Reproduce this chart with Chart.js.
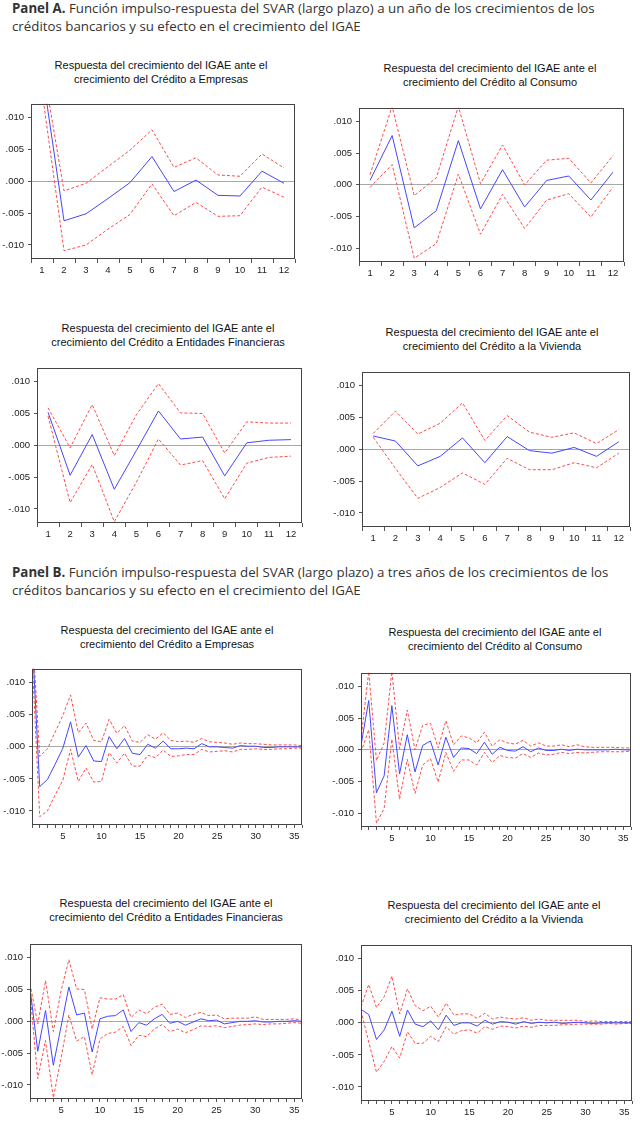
<!DOCTYPE html>
<html lang="es">
<head>
<meta charset="UTF-8">
<script src="https://cdn.jsdelivr.net/npm/chart.js@4.4.0/dist/chart.umd.min.js"></script>
<title>Impulso-respuesta SVAR</title>
<style>
  body { margin: 0; background: #fff; width: 640px; height: 1125px; position: relative; overflow: hidden; }
  .hdr { position: absolute; left: 12px; font-family: "Open Sans", sans-serif; font-size: 13.3px; line-height: 18px; color: #333; white-space: nowrap; }
  .ttl { position: absolute; width: 320px; text-align: center; font-family: "Liberation Sans", Arial, sans-serif; font-size: 11px; line-height: 14px; color: #111; }
  .box { position: absolute; }
</style>
</head>
<body>
<div class="hdr" style="top:-1px"><b>Panel A.</b> Función impulso-respuesta del SVAR (largo plazo) a un año de los crecimientos de los<br>créditos bancarios y su efecto en el crecimiento del IGAE</div>
<div class="hdr" style="top:563px"><b>Panel B.</b> Función impulso-respuesta del SVAR (largo plazo) a tres años de los crecimientos de los<br>créditos bancarios y su efecto en el crecimiento del IGAE</div>
<script>
// periods
const periodsA = ['1', '2', '3', '4', '5', '6', '7', '8', '9', '10', '11', '12'];
const periodsB = [1, 2, 3, 4, 5, 6, 7, 8, 9, 10, 11, 12, 13, 14, 15, 16, 17, 18,
  19, 20, 21, 22, 23, 24, 25, 26, 27, 28, 29, 30, 31, 32, 33, 34, 35, 36];
const yTicks = [-0.01, -0.005, 0, 0.005, 0.01];

// Crédito a Empresas (periods 1-12, then 13-36)
const empresasResp = [0.0175, -0.0062, -0.0051, -0.0027, -0.0002, 0.0039, -0.0016, 0.0002, -0.0022, -0.0023, 0.0016, -0.0003];
const empresasUpper = [0.0190, -0.0015, -0.0003, 0.0023, 0.0049, 0.0081, 0.0022, 0.0037, 0.0010, 0.0008, 0.0043, 0.0021];
const empresasLower = [0.0142, -0.0109, -0.0100, -0.0075, -0.0052, -0.0004, -0.0054, -0.0033, -0.0055, -0.0054, -0.0009, -0.0025];
const empresasRespTail = [0.0013, -0.0010, -0.0012, 0.0004, -0.0002, 0.0009, -0.0003, -0.0003, -0.0002, -0.0003, 0.0005, 0.0000,
  0.0000, -0.0001, -0.0002, 0.0002, 0.0001, 0.0001, -0.0001, -0.0001, 0.0000, 0.0000, 0.0000, 0.0000];
const empresasUpperTail = [0.0033, 0.0009, 0.0007, 0.0019, 0.0012, 0.0022, 0.0010, 0.0008, 0.0009, 0.0007, 0.0013, 0.0008,
  0.0007, 0.0006, 0.0004, 0.0006, 0.0005, 0.0005, 0.0004, 0.0003, 0.0003, 0.0003, 0.0003, 0.0002];
const empresasLowerTail = [-0.0010, -0.0030, -0.0030, -0.0013, -0.0017, -0.0005, -0.0015, -0.0014, -0.0012, -0.0012, -0.0004, -0.0008,
  -0.0007, -0.0006, -0.0008, -0.0004, -0.0004, -0.0003, -0.0004, -0.0004, -0.0003, -0.0003, -0.0002, -0.0002];

// Crédito al Consumo
const consumoResp = [0.0007, 0.0078, -0.0068, -0.0041, 0.0070, -0.0038, 0.0024, -0.0035, 0.0007, 0.0014, -0.0024, 0.0020];
const consumoUpper = [0.0016, 0.0124, -0.0017, 0.0011, 0.0124, 0.0002, 0.0063, 0.0000, 0.0039, 0.0042, 0.0003, 0.0046];
const consumoLower = [-0.0004, 0.0032, -0.0116, -0.0093, 0.0017, -0.0078, -0.0015, -0.0069, -0.0024, -0.0014, -0.0051, -0.0004];
const consumoRespTail = [-0.0012, 0.0003, 0.0002, -0.0006, 0.0012, -0.0007, 0.0004, -0.0001, -0.0002, 0.0005, -0.0003, 0.0003,
  -0.0001, -0.0001, 0.0001, -0.0001, 0.0001, 0.0000, 0.0000, 0.0000, 0.0000, 0.0001, 0.0000, 0.0000];
const consumoUpperTail = [0.0008, 0.0022, 0.0019, 0.0011, 0.0028, 0.0006, 0.0016, 0.0011, 0.0009, 0.0015, 0.0006, 0.0011,
  0.0006, 0.0006, 0.0008, 0.0005, 0.0008, 0.0005, 0.0004, 0.0004, 0.0004, 0.0004, 0.0003, 0.0003];
const consumoLowerTail = [-0.0034, -0.0016, -0.0016, -0.0024, -0.0004, -0.0020, -0.0009, -0.0012, -0.0013, -0.0006, -0.0012, -0.0005,
  -0.0008, -0.0007, -0.0004, -0.0006, -0.0004, -0.0005, -0.0004, -0.0003, -0.0003, -0.0003, -0.0003, -0.0002];

// Crédito a Entidades Financieras
const entidadesResp = [0.0052, -0.0047, 0.0017, -0.0069, -0.0008, 0.0054, 0.0010, 0.0013, -0.0048, 0.0004, 0.0008, 0.0009];
const entidadesUpper = [0.0059, -0.0004, 0.0064, -0.0016, 0.0048, 0.0097, 0.0051, 0.0050, -0.0012, 0.0037, 0.0035, 0.0035];
const entidadesLower = [0.0046, -0.0090, -0.0030, -0.0120, -0.0058, 0.0010, -0.0031, -0.0024, -0.0084, -0.0028, -0.0019, -0.0017];
const entidadesRespTail = [0.0018, -0.0016, -0.0002, -0.0006, 0.0004, 0.0011, -0.0003, 0.0000, -0.0006, -0.0001, 0.0004, 0.0001,
  0.0002, -0.0004, -0.0002, 0.0000, 0.0000, 0.0001, -0.0001, -0.0001, 0.0000, 0.0000, 0.0001, 0.0000];
const entidadesUpperTail = [0.0042, 0.0006, 0.0018, 0.0012, 0.0022, 0.0027, 0.0011, 0.0013, 0.0006, 0.0011, 0.0014, 0.0009,
  0.0010, 0.0004, 0.0005, 0.0005, 0.0005, 0.0007, 0.0003, 0.0003, 0.0003, 0.0003, 0.0004, 0.0002];
const entidadesLowerTail = [-0.0008, -0.0038, -0.0022, -0.0024, -0.0012, -0.0005, -0.0016, -0.0012, -0.0018, -0.0013, -0.0007, -0.0008,
  -0.0007, -0.0010, -0.0008, -0.0006, -0.0005, -0.0004, -0.0005, -0.0004, -0.0004, -0.0003, -0.0002, -0.0003];

// Crédito a la Vivienda
const viviendaResp = [0.0021, 0.0013, -0.0026, -0.0011, 0.0018, -0.0021, 0.0020, -0.0002, -0.0006, 0.0003, -0.0011, 0.0012];
const viviendaUpper = [0.0025, 0.0060, 0.0024, 0.0041, 0.0073, 0.0014, 0.0053, 0.0027, 0.0019, 0.0026, 0.0009, 0.0031];
const viviendaLower = [0.0019, -0.0030, -0.0077, -0.0060, -0.0037, -0.0055, -0.0014, -0.0032, -0.0032, -0.0021, -0.0029, -0.0006];
const viviendaRespTail = [-0.0004, 0.0000, 0.0000, -0.0005, 0.0004, -0.0002, 0.0002, 0.0001, -0.0002, 0.0002, -0.0001, 0.0001,
  0.0000, 0.0001, -0.0001, 0.0000, 0.0001, 0.0000, -0.0001, 0.0000, 0.0000, 0.0000, 0.0000, 0.0000];
const viviendaUpperTail = [0.0012, 0.0014, 0.0014, 0.0007, 0.0015, 0.0006, 0.0009, 0.0007, 0.0006, 0.0008, 0.0004, 0.0006,
  0.0004, 0.0004, 0.0004, 0.0004, 0.0004, 0.0002, 0.0003, 0.0002, 0.0002, 0.0002, 0.0002, 0.0002];
const viviendaLowerTail = [-0.0018, -0.0012, -0.0011, -0.0016, -0.0006, -0.0010, -0.0005, -0.0006, -0.0008, -0.0005, -0.0007, -0.0004,
  -0.0004, -0.0004, -0.0003, -0.0003, -0.0002, -0.0002, -0.0002, -0.0002, -0.0001, -0.0002, -0.0001, -0.0001];

const line1 = 'Respuesta del crecimiento del IGAE ante el';
const FONT = '"Liberation Sans", Arial, sans-serif';
const BLUE = 'rgb(70,70,255)';
const RED = 'rgb(255,75,75)';

const charts = [
  { box: [31, 98, 295, 259], tx: 161, ty: 58, sub: 'crecimiento del Crédito a Empresas', long: false,
    resp: empresasResp, upper: empresasUpper, lower: empresasLower },
  { box: [359, 102, 624, 262], tx: 490, ty: 61, sub: 'crecimiento del Crédito al Consumo', long: false,
    resp: consumoResp, upper: consumoUpper, lower: consumoLower },
  { box: [37, 362, 302, 523], tx: 168, ty: 321, sub: 'crecimiento del Crédito a Entidades Financieras', long: false,
    resp: entidadesResp, upper: entidadesUpper, lower: entidadesLower },
  { box: [362, 366, 630, 527], tx: 492, ty: 325, sub: 'crecimiento del Crédito a la Vivienda', long: false,
    resp: viviendaResp, upper: viviendaUpper, lower: viviendaLower },
  { box: [32, 663, 302, 825], tx: 167, ty: 623, sub: 'crecimiento del Crédito a Empresas', long: true,
    resp: empresasResp.concat(empresasRespTail), upper: empresasUpper.concat(empresasUpperTail), lower: empresasLower.concat(empresasLowerTail) },
  { box: [361, 667, 631, 827], tx: 495, ty: 625, sub: 'crecimiento del Crédito al Consumo', long: true,
    resp: consumoResp.concat(consumoRespTail), upper: consumoUpper.concat(consumoUpperTail), lower: consumoLower.concat(consumoLowerTail) },
  { box: [30, 938, 302, 1099], tx: 166, ty: 896, sub: 'crecimiento del Crédito a Entidades Financieras', long: true,
    resp: entidadesResp.concat(entidadesRespTail), upper: entidadesUpper.concat(entidadesUpperTail), lower: entidadesLower.concat(entidadesLowerTail) },
  { box: [361, 939, 632, 1101], tx: 494, ty: 898, sub: 'crecimiento del Crédito a la Vivienda', long: true,
    resp: viviendaResp.concat(viviendaRespTail), upper: viviendaUpper.concat(viviendaUpperTail), lower: viviendaLower.concat(viviendaLowerTail) }
];

// box around the plot area, like EViews
const frame = {
  id: 'frame',
  afterDraw(chart) {
    const a = chart.chartArea, c = chart.ctx;
    c.save();
    c.strokeStyle = '#444';
    c.lineWidth = 1;
    c.strokeRect(Math.round(a.left) + 0.5, Math.round(a.top) + 0.5, Math.round(a.right - a.left) - 1, Math.round(a.bottom - a.top) - 1);
    c.restore();
  }
};

const fmtY = v => {
  if (Math.abs(v) < 1e-9) return '.000';
  return (v < 0 ? '-' : '') + Math.abs(v).toFixed(3).replace(/^0/, '');
};

const PAD_L = 36, PAD_T = 4, PAD_R = 6, PAD_B = 20;

charts.forEach(spec => {
  const [L, T, R, B] = spec.box;

  const t = document.createElement('div');
  t.className = 'ttl';
  t.style.left = (spec.tx - 160) + 'px';
  t.style.top = spec.ty + 'px';
  t.innerHTML = line1 + '<br>' + spec.sub;
  document.body.appendChild(t);

  const div = document.createElement('div');
  div.className = 'box';
  const w = R - L + PAD_L + PAD_R, h = B - T + PAD_T + PAD_B;
  div.style.left = (L - PAD_L) + 'px';
  div.style.top = (T - PAD_T) + 'px';
  const cv = document.createElement('canvas');
  cv.width = w; cv.height = h;
  cv.style.width = w + 'px'; cv.style.height = h + 'px';
  div.appendChild(cv);
  document.body.appendChild(div);

  const tickFont = { family: FONT, size: 9.5 };
  const xScale = spec.long ? {
    type: 'linear', min: 1, max: 36,
    afterBuildTicks: s => { s.ticks = periodsB.map(v => ({ value: v })); },
    afterFit: s => { s.height = PAD_B; },
    border: { display: false },
    grid: { drawOnChartArea: false, tickLength: 3, tickColor: '#555' },
    ticks: { callback: v => (v % 5 === 0 ? String(v) : ''), font: tickFont, color: '#222', padding: 3, autoSkip: false, maxRotation: 0 }
  } : {
    type: 'category', offset: true,
    afterFit: s => { s.height = PAD_B; },
    border: { display: false },
    grid: { offset: true, drawOnChartArea: false, tickLength: 4, tickColor: '#555' },
    ticks: { font: tickFont, color: '#222', padding: 2, autoSkip: false, maxRotation: 0 }
  };

  new Chart(cv, {
    type: 'line',
    data: {
      labels: spec.long ? periodsB : periodsA,
      datasets: [
        { data: spec.resp, borderColor: BLUE, borderWidth: 1, pointRadius: 0, tension: 0 },
        { data: spec.upper, borderColor: RED, borderWidth: 1, borderDash: [3, 2], pointRadius: 0, tension: 0 },
        { data: spec.lower, borderColor: RED, borderWidth: 1, borderDash: [3, 2], pointRadius: 0, tension: 0 }
      ]
    },
    options: {
      responsive: false,
      animation: false,
      layout: { padding: { left: 0, top: PAD_T, right: PAD_R, bottom: 0 } },
      plugins: { legend: { display: false }, tooltip: { enabled: false } },
      scales: {
        x: xScale,
        y: {
          min: -0.0122, max: 0.0122,
          afterBuildTicks: s => { s.ticks = yTicks.map(v => ({ value: v })); },
          afterFit: s => { s.width = PAD_L; },
          border: { display: false },
          grid: {
            color: c => (c.tick && Math.abs(c.tick.value) < 1e-9 ? '#a8a8a8' : 'rgba(0,0,0,0)'),
            tickColor: '#555', tickLength: 3
          },
          ticks: { callback: fmtY, font: tickFont, color: '#222', padding: 4 }
        }
      }
    },
    plugins: [frame]
  });
});
</script>
</body>
</html>
